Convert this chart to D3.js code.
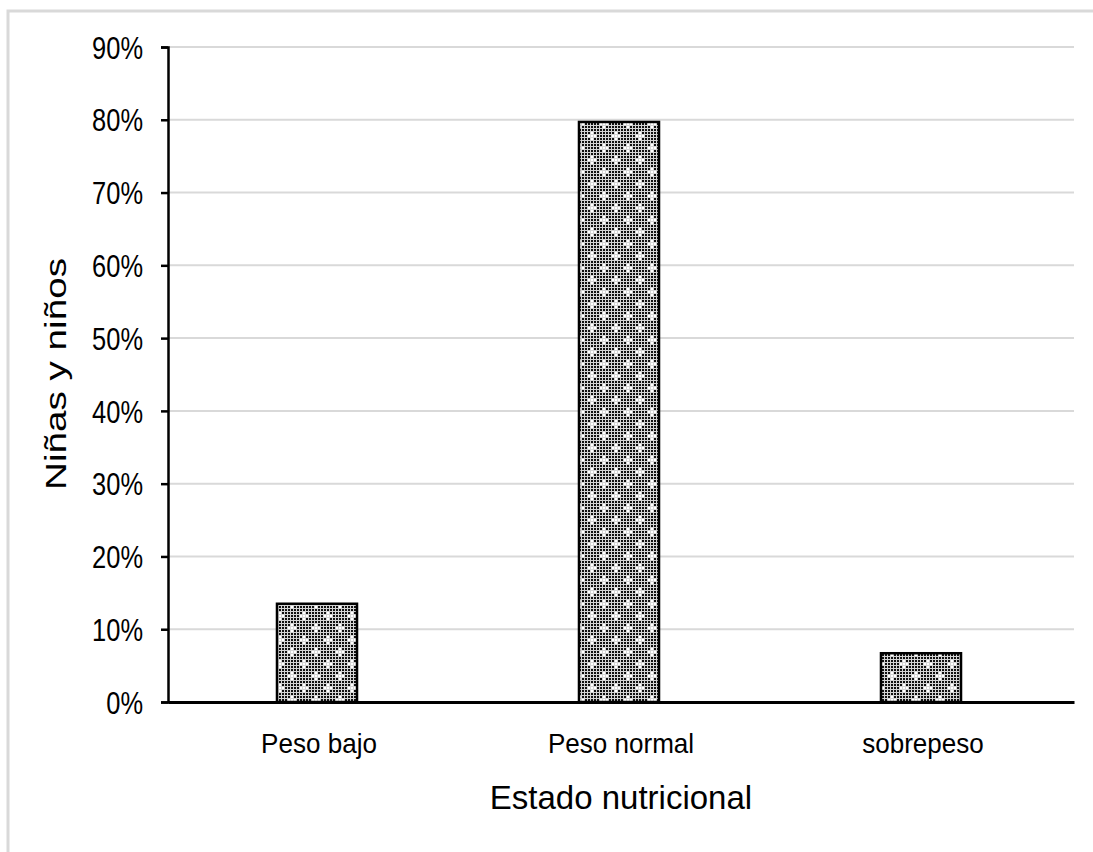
<!DOCTYPE html>
<html>
<head>
<meta charset="utf-8">
<script src="https://cdn.jsdelivr.net/npm/d3@7"></script>
<style>
  html, body { margin: 0; padding: 0; background: #fff; }
  svg { display: block; }
  text { font-family: "Liberation Sans", Arial, sans-serif; fill: #000; }
</style>
</head>
<body>
<svg id="chart" width="1093" height="852"></svg>
<script>
// Estado nutricional de niñas y niños (porcentaje)
const categories = ["Peso bajo", "Peso normal", "sobrepeso"];
const values = [0.135, 0.797, 0.067];
const yTicks = [0, 0.1, 0.2, 0.3, 0.4, 0.5, 0.6, 0.7, 0.8, 0.9];
const xTitle = "Estado nutricional";
const yTitle = "Niñas y niños";

const svg = d3.select("#chart");
const W = 1093, H = 852;
const plot = { left: 168, right: 1074, top: 47, bottom: 702 };

// Outer chart frame (top and left edges visible)
svg.append("path")
  .attr("d", `M8,${H} L8,11 L${W},11`)
  .attr("fill", "none")
  .attr("stroke", "#d9d9d9")
  .attr("stroke-width", 3);

// Dotted grid fill used by the bars
const defs = svg.append("defs");
const pat = defs.append("pattern")
  .attr("id", "dots")
  .attr("patternUnits", "userSpaceOnUse")
  .attr("width", 24).attr("height", 24);
pat.append("rect").attr("width", 24).attr("height", 24).attr("fill", "#d4d4d4");
const holes = new Set(["1,1", "0,1", "2,1", "1,0", "1,2", "5,5", "4,5", "6,5", "5,4", "5,6"]);
for (let i = 0; i < 8; i++) {
  for (let j = 0; j < 8; j++) {
    pat.append("rect")
      .attr("x", i * 3).attr("y", j * 3)
      .attr("width", 2).attr("height", 2)
      .attr("fill", holes.has(i + "," + j) ? "#fff" : "#111");
  }
}

const x = d3.scaleBand()
  .domain(categories)
  .range([plot.left, plot.right])
  .paddingInner(0.735)
  .paddingOuter(0.3675);

const y = d3.scaleLinear()
  .domain([0, 0.9])
  .range([plot.bottom, plot.top]);

// Horizontal gridlines
svg.append("g")
  .selectAll("line")
  .data(yTicks.filter(d => d > 0))
  .join("line")
  .attr("x1", plot.left).attr("x2", plot.right)
  .attr("y1", d => y(d)).attr("y2", d => y(d))
  .attr("stroke", "#d9d9d9")
  .attr("stroke-width", 2);

// Bars
svg.append("g")
  .selectAll("rect")
  .data(categories.map((c, i) => ({ c, v: values[i] })))
  .join("rect")
  .attr("x", d => x(d.c) - 2)
  .attr("y", d => y(d.v))
  .attr("width", x.bandwidth())
  .attr("height", d => y(0) - y(d.v))
  .attr("fill", "url(#dots)")
  .attr("stroke", "#000")
  .attr("stroke-width", 2.5);

// Y axis
const yAxis = svg.append("g")
  .attr("transform", `translate(${plot.left},0)`)
  .call(d3.axisLeft(y).tickValues(yTicks).tickFormat(d3.format(".0%")).tickSize(7).tickPadding(18));
yAxis.select(".domain").attr("stroke", "#000").attr("stroke-width", 2.5);
yAxis.selectAll(".tick line").attr("stroke", "#000").attr("stroke-width", 2.5);
yAxis.selectAll(".tick text")
  .attr("font-size", 31)
  .attr("font-family", "Liberation Sans, Arial, sans-serif")
  .attr("dy", "0.36em")
  .each(function () {
    const w = this.getComputedTextLength();
    d3.select(this).attr("textLength", w * 0.82).attr("lengthAdjust", "spacingAndGlyphs");
  });

// X axis
const xAxis = svg.append("g")
  .attr("transform", `translate(0,${plot.bottom})`)
  .call(d3.axisBottom(x).tickSize(0).tickPadding(51));
xAxis.select(".domain").attr("stroke", "#000").attr("stroke-width", 3);
xAxis.selectAll(".tick text")
  .attr("font-size", 28)
  .attr("font-family", "Liberation Sans, Arial, sans-serif")
  .attr("dy", "0")
  .each(function () {
    const w = this.getComputedTextLength();
    d3.select(this).attr("textLength", w * 0.93).attr("lengthAdjust", "spacingAndGlyphs");
  });

// Axis titles
svg.append("text")
  .attr("x", (plot.left + plot.right) / 2)
  .attr("y", 809)
  .attr("text-anchor", "middle")
  .attr("font-size", 33)
  .text(xTitle);

svg.append("text")
  .attr("transform", "translate(66,374) rotate(-90)")
  .attr("text-anchor", "middle")
  .attr("font-size", 29)
  .text(yTitle)
  .attr("textLength", 232)
  .attr("lengthAdjust", "spacingAndGlyphs");
</script>
</body>
</html>
